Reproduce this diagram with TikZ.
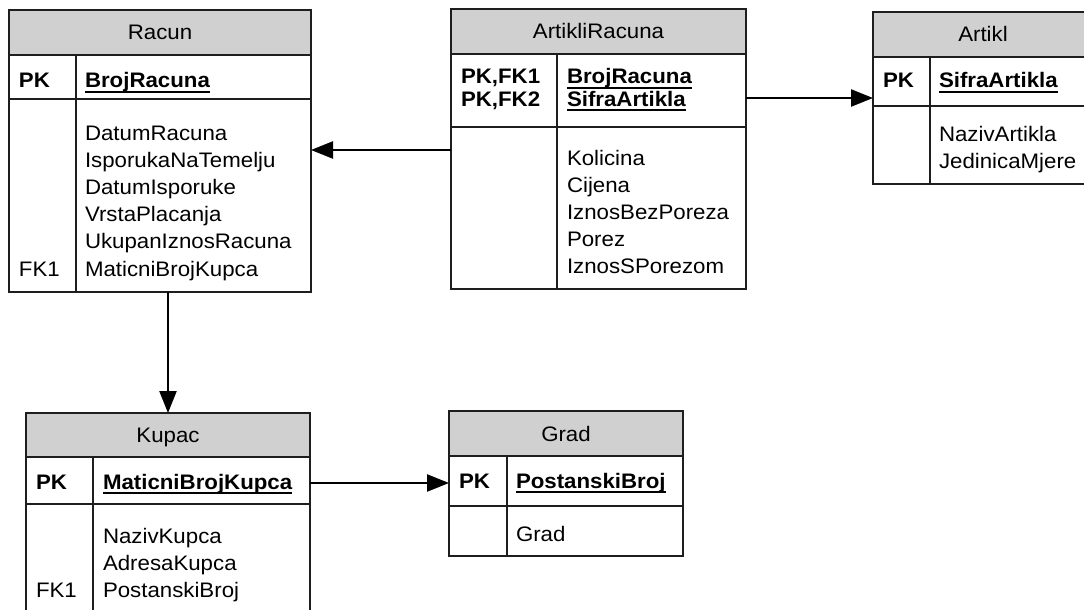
\documentclass[tikz,border=0pt]{standalone}
\usepackage{fontspec}
\setmainfont{Liberation Sans}[FakeStretch=1.06]
\usetikzlibrary{arrows.meta}
\definecolor{hdrgray}{RGB}{208,208,208}
\definecolor{edgecol}{RGB}{30,30,30}
\tikzset{
  box/.style={draw=edgecol, line width=1.6pt, inner sep=0pt, outer sep=0pt, anchor=north west},
  hdrbox/.style={box, fill=hdrgray},
  txt/.style={inner sep=0pt, outer sep=0pt, anchor=base west, font=\fontsize{21}{25}\selectfont},
  ttl/.style={inner sep=0pt, outer sep=0pt, anchor=base, font=\fontsize{21}{25}\selectfont},
  keytxt/.style={txt, font=\fontsize{21}{25}\selectfont\bfseries},
  ul/.style={line width=1.9pt, black},
  divline/.style={draw=edgecol, line width=1.6pt},
  rel/.style={line width=2.4pt, black, -{Triangle[length=22pt,width=17pt]}},
}
\newcommand{\ulnode}[1]{\draw[ul] ([yshift=-3.7pt]#1.base west) -- ([yshift=-3.7pt]#1.base east);}
\begin{document}
\begin{tikzpicture}[x=1pt,y=-1pt]
\path[use as bounding box] (0,0) rectangle (1084,610);
\clip (0,0) rectangle (1084,610);

% ---------- Racun ----------
\node[hdrbox, minimum width=302pt, minimum height=45pt] (rc-h) at (9,10) {};
\node[box, minimum width=302pt, minimum height=44pt] (rc-p) at (9,55) {};
\node[box, minimum width=302pt, minimum height=193pt] (rc-b) at (9,99) {};
\draw[divline] (76,55) -- (76,292);
\node[ttl] (rc-t) at (160,40) {Racun};
\node[keytxt] (rc-pk) at (19,88) {PK};
\node[keytxt] (rc-k1) at (85,88) {BrojRacuna};
\ulnode{rc-k1}
\foreach \t [count=\i] in {DatumRacuna,IsporukaNaTemelju,DatumIsporuke,VrstaPlacanja,UkupanIznosRacuna,MaticniBrojKupca}
  \node[txt] (rc-a\i) at (85,{112.8+27.2*\i}) {\t};
\node[txt] (rc-fk) at (19,276) {FK1};

% ---------- ArtikliRacuna ----------
\node[hdrbox, minimum width=295pt, minimum height=45pt] (ar-h) at (451,9) {};
\node[box, minimum width=295pt, minimum height=73pt] (ar-p) at (451,54) {};
\node[box, minimum width=295pt, minimum height=162pt] (ar-b) at (451,127) {};
\draw[divline] (557,54) -- (557,289);
\node[ttl] (ar-t) at (598.5,39) {ArtikliRacuna};
\node[keytxt] (ar-pk1) at (461,84) {PK,FK1};
\node[keytxt] (ar-pk2) at (461,106) {PK,FK2};
\node[keytxt] (ar-k1) at (567,84) {BrojRacuna};
\node[keytxt] (ar-k2) at (567,106) {SifraArtikla};
\ulnode{ar-k1}
\ulnode{ar-k2}
\foreach \t [count=\i] in {Kolicina,Cijena,IznosBezPoreza,Porez,IznosSPorezom}
  \node[txt] (ar-a\i) at (567,{137.8+27.2*\i}) {\t};

% ---------- Artikl ----------
\node[hdrbox, minimum width=220pt, minimum height=45pt] (at-h) at (873,12) {};
\node[box, minimum width=220pt, minimum height=49pt] (at-p) at (873,57) {};
\node[box, minimum width=220pt, minimum height=78pt] (at-b) at (873,106) {};
\draw[divline] (930,57) -- (930,184);
\node[ttl] (at-t) at (983,42) {Artikl};
\node[keytxt] (at-pk) at (883,88) {PK};
\node[keytxt] (at-k1) at (939,88) {SifraArtikla};
\ulnode{at-k1}
\node[txt] (at-a1) at (939,141) {NazivArtikla};
\node[txt] (at-a2) at (939,168) {JedinicaMjere};

% ---------- Kupac ----------
\node[hdrbox, minimum width=284pt, minimum height=44pt] (ku-h) at (26,413) {};
\node[box, minimum width=284pt, minimum height=47pt] (ku-p) at (26,457) {};
\node[box, minimum width=284pt, minimum height=130pt] (ku-b) at (26,504) {};
\draw[divline] (93,457) -- (93,634);
\node[ttl] (ku-t) at (168,442) {Kupac};
\node[keytxt] (ku-pk) at (36,489) {PK};
\node[keytxt] (ku-k1) at (103,489) {MaticniBrojKupca};
\ulnode{ku-k1}
\foreach \t [count=\i] in {NazivKupca,AdresaKupca,PostanskiBroj}
  \node[txt] (ku-a\i) at (103,{515.8+27.2*\i}) {\t};
\node[txt] (ku-fk) at (36,597.4) {FK1};

% ---------- Grad ----------
\node[hdrbox, minimum width=234pt, minimum height=45pt] (gr-h) at (449,411) {};
\node[box, minimum width=234pt, minimum height=50pt] (gr-p) at (449,456) {};
\node[box, minimum width=234pt, minimum height=50pt] (gr-b) at (449,506) {};
\draw[divline] (507,456) -- (507,556);
\node[ttl] (gr-t) at (566,441) {Grad};
\node[keytxt] (gr-pk) at (459,488) {PK};
\node[keytxt] (gr-k1) at (516,488) {PostanskiBroj};
\ulnode{gr-k1}
\node[txt] (gr-a1) at (516,541) {Grad};

% ---------- Relationships ----------
\draw[rel] (ar-b.west |- 0,150) -- (rc-b.east |- 0,150);
\draw[rel] (ar-p.east |- 0,98) -- (at-p.west |- 0,98);
\draw[rel] (rc-b.south -| 168,0) -- (ku-h.north -| 168,0);
\draw[rel] (ku-p.east |- 0,483) -- (gr-p.west |- 0,483);
\end{tikzpicture}
\end{document}
